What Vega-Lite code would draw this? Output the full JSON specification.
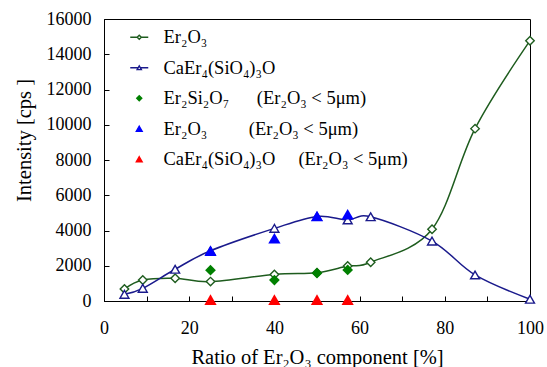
{
  "$schema": "https://vega.github.io/schema/vega-lite/v6.json",
  "width": 426,
  "height": 282,
  "autosize": {"type": "none"},
  "padding": {"left": 104, "top": 19, "right": 17, "bottom": 66},
  "background": "white",
  "config": {
    "view": {"stroke": "black", "strokeWidth": 1},
    "font": "Liberation Serif, Times New Roman, serif",
    "axis": {
      "grid": false,
      "domainColor": "black",
      "domainWidth": 1,
      "tickColor": "black",
      "tickWidth": 1,
      "tickSize": -5,
      "labelColor": "black",
      "titleColor": "black",
      "labelFont": "Liberation Serif, Times New Roman, serif",
      "titleFont": "Liberation Serif, Times New Roman, serif",
      "labelFontSize": 18,
      "titleFontSize": 20.5,
      "titleFontWeight": "normal"
    },
    "legend": {
      "labelFont": "Liberation Serif, Times New Roman, serif",
      "labelFontSize": 18.5,
      "labelColor": "black",
      "labelLimit": 500
    }
  },
  "datasets": {
    "pts": [
      {"ratio": 4.8, "intensity": 680, "series": "Er₂O₃"},
      {"ratio": 9.1, "intensity": 1190, "series": "Er₂O₃"},
      {"ratio": 16.7, "intensity": 1290, "series": "Er₂O₃"},
      {"ratio": 25, "intensity": 1100, "series": "Er₂O₃"},
      {"ratio": 40, "intensity": 1510, "series": "Er₂O₃"},
      {"ratio": 50, "intensity": 1600, "series": "Er₂O₃"},
      {"ratio": 57.2, "intensity": 1980, "series": "Er₂O₃"},
      {"ratio": 62.6, "intensity": 2200, "series": "Er₂O₃"},
      {"ratio": 77, "intensity": 4070, "series": "Er₂O₃"},
      {"ratio": 87.1, "intensity": 9780, "series": "Er₂O₃"},
      {"ratio": 100, "intensity": 14770, "series": "Er₂O₃"},
      {"ratio": 4.8, "intensity": 380, "series": "CaEr₄(SiO₄)₃O"},
      {"ratio": 9.1, "intensity": 720, "series": "CaEr₄(SiO₄)₃O"},
      {"ratio": 16.7, "intensity": 1800, "series": "CaEr₄(SiO₄)₃O"},
      {"ratio": 25, "intensity": 2850, "series": "CaEr₄(SiO₄)₃O"},
      {"ratio": 40, "intensity": 4120, "series": "CaEr₄(SiO₄)₃O"},
      {"ratio": 50, "intensity": 4800, "series": "CaEr₄(SiO₄)₃O"},
      {"ratio": 57.2, "intensity": 4600, "series": "CaEr₄(SiO₄)₃O"},
      {"ratio": 62.6, "intensity": 4780, "series": "CaEr₄(SiO₄)₃O"},
      {"ratio": 77, "intensity": 3400, "series": "CaEr₄(SiO₄)₃O"},
      {"ratio": 87.1, "intensity": 1480, "series": "CaEr₄(SiO₄)₃O"},
      {"ratio": 100, "intensity": 100, "series": "CaEr₄(SiO₄)₃O"},
      {"ratio": 25, "intensity": 1750, "series": "Er₂Si₂O₇\u00a0\u00a0\u00a0\u00a0\u00a0\u00a0(Er₂O₃ < 5μm)"},
      {"ratio": 40, "intensity": 1190, "series": "Er₂Si₂O₇\u00a0\u00a0\u00a0\u00a0\u00a0\u00a0(Er₂O₃ < 5μm)"},
      {"ratio": 50, "intensity": 1580, "series": "Er₂Si₂O₇\u00a0\u00a0\u00a0\u00a0\u00a0\u00a0(Er₂O₃ < 5μm)"},
      {"ratio": 57.2, "intensity": 1760, "series": "Er₂Si₂O₇\u00a0\u00a0\u00a0\u00a0\u00a0\u00a0(Er₂O₃ < 5μm)"},
      {"ratio": 25, "intensity": 2850, "series": "Er₂O₃\u00a0\u00a0\u00a0\u00a0\u00a0\u00a0\u00a0\u00a0\u00a0(Er₂O₃ < 5μm)"},
      {"ratio": 40, "intensity": 3560, "series": "Er₂O₃\u00a0\u00a0\u00a0\u00a0\u00a0\u00a0\u00a0\u00a0\u00a0(Er₂O₃ < 5μm)"},
      {"ratio": 50, "intensity": 4820, "series": "Er₂O₃\u00a0\u00a0\u00a0\u00a0\u00a0\u00a0\u00a0\u00a0\u00a0(Er₂O₃ < 5μm)"},
      {"ratio": 57.2, "intensity": 4920, "series": "Er₂O₃\u00a0\u00a0\u00a0\u00a0\u00a0\u00a0\u00a0\u00a0\u00a0(Er₂O₃ < 5μm)"},
      {"ratio": 25, "intensity": 80, "series": "CaEr₄(SiO₄)₃O\u00a0\u00a0\u00a0\u00a0\u00a0(Er₂O₃ < 5μm)"},
      {"ratio": 40, "intensity": 80, "series": "CaEr₄(SiO₄)₃O\u00a0\u00a0\u00a0\u00a0\u00a0(Er₂O₃ < 5μm)"},
      {"ratio": 50, "intensity": 80, "series": "CaEr₄(SiO₄)₃O\u00a0\u00a0\u00a0\u00a0\u00a0(Er₂O₃ < 5μm)"},
      {"ratio": 57.2, "intensity": 80, "series": "CaEr₄(SiO₄)₃O\u00a0\u00a0\u00a0\u00a0\u00a0(Er₂O₃ < 5μm)"}
    ]
  },
  "data": {"name": "pts"},
  "encoding": {
    "x": {
      "field": "ratio",
      "type": "quantitative",
      "scale": {"domain": [0, 100], "nice": false, "zero": false},
      "axis": {
        "values": [0, 10, 20, 30, 40, 50, 60, 70, 80, 90, 100],
        "labelExpr": "datum.value % 20 == 0 ? datum.label : ''",
        "labelFlush": false,
        "labelOverlap": false,
        "labelPadding": 23,
        "title": "Ratio of Er₂O₃ component [%]",
        "titleY": 62,
        "titleBaseline": "alphabetic"
      }
    },
    "y": {
      "field": "intensity",
      "type": "quantitative",
      "scale": {"domain": [0, 16000], "nice": false},
      "axis": {
        "values": [0, 2000, 4000, 6000, 8000, 10000, 12000, 14000, 16000],
        "format": "d",
        "labelPadding": 18,
        "title": "Intensity [cps ]",
        "titleX": -80,
        "titleY": 121,
        "titleAngle": -90,
        "titleAlign": "center",
        "titleBaseline": "middle"
      }
    }
  },
  "layer": [
    {
      "transform": [{"filter": {"field": "series", "equal": "Er₂O₃"}}],
      "mark": {"type": "line", "interpolate": "cardinal", "color": "#1e5c1e", "strokeWidth": 1.5}
    },
    {
      "transform": [{"filter": {"field": "series", "equal": "CaEr₄(SiO₄)₃O"}}],
      "mark": {"type": "line", "interpolate": "cardinal", "color": "#1a1a8c", "strokeWidth": 1.5}
    },
    {
      "transform": [{"filter": {"field": "series", "equal": "Er₂O₃"}}],
      "mark": {"type": "point", "shape": "diamond", "filled": true, "fill": "white", "stroke": "#1e5c1e", "strokeWidth": 1.4, "size": 72, "opacity": 1}
    },
    {
      "transform": [{"filter": {"field": "series", "equal": "CaEr₄(SiO₄)₃O"}}],
      "mark": {"type": "point", "shape": "triangle-up", "filled": true, "fill": "white", "stroke": "#1a1a8c", "strokeWidth": 1.4, "size": 80, "opacity": 1}
    },
    {
      "transform": [{"filter": {"field": "series", "equal": "Er₂Si₂O₇\u00a0\u00a0\u00a0\u00a0\u00a0\u00a0(Er₂O₃ < 5μm)"}}],
      "mark": {"type": "point", "shape": "diamond", "filled": true, "color": "#008000", "size": 115, "opacity": 1}
    },
    {
      "transform": [{"filter": {"field": "series", "equal": "Er₂O₃\u00a0\u00a0\u00a0\u00a0\u00a0\u00a0\u00a0\u00a0\u00a0(Er₂O₃ < 5μm)"}}],
      "mark": {"type": "point", "shape": "triangle-up", "filled": true, "color": "#0000ff", "size": 150, "opacity": 1}
    },
    {
      "transform": [{"filter": {"field": "series", "equal": "CaEr₄(SiO₄)₃O\u00a0\u00a0\u00a0\u00a0\u00a0(Er₂O₃ < 5μm)"}}],
      "mark": {"type": "point", "shape": "triangle-up", "filled": true, "color": "#ff0000", "size": 150, "opacity": 1}
    },
    {
      "data": {"values": []},
      "mark": {"type": "point", "filled": true, "size": 400, "opacity": 1, "strokeWidth": 1.4},
      "encoding": {
        "shape": {
          "field": "series",
          "type": "nominal",
          "scale": {
            "domain": ["Er₂O₃", "CaEr₄(SiO₄)₃O", "Er₂Si₂O₇\u00a0\u00a0\u00a0\u00a0\u00a0\u00a0(Er₂O₃ < 5μm)", "Er₂O₃\u00a0\u00a0\u00a0\u00a0\u00a0\u00a0\u00a0\u00a0\u00a0(Er₂O₃ < 5μm)", "CaEr₄(SiO₄)₃O\u00a0\u00a0\u00a0\u00a0\u00a0(Er₂O₃ < 5μm)"],
            "range": [
              "M-1.8,0L-0.42,0M0.42,0L1.8,0M0,-0.42L0.42,0L0,0.42L-0.42,0Z",
              "M-1.8,0L-0.21,0M0.21,0L1.8,0M0,-0.37L0.42,0.37L-0.42,0.37Z",
              "M0,-0.5L0.5,0L0,0.5L-0.5,0Z",
              "M0,-0.5L0.58,0.5L-0.58,0.5Z",
              "M0,-0.5L0.58,0.5L-0.58,0.5Z"
            ]
          },
          "legend": {"title": null, "orient": "none", "legendX": 26, "legendY": 9, "padding": 0, "labelOffset": 15, "rowPadding": 11.5, "symbolStrokeWidth": 1.4}
        },
        "fill": {
          "field": "series",
          "type": "nominal",
          "scale": {
            "domain": ["Er₂O₃", "CaEr₄(SiO₄)₃O", "Er₂Si₂O₇\u00a0\u00a0\u00a0\u00a0\u00a0\u00a0(Er₂O₃ < 5μm)", "Er₂O₃\u00a0\u00a0\u00a0\u00a0\u00a0\u00a0\u00a0\u00a0\u00a0(Er₂O₃ < 5μm)", "CaEr₄(SiO₄)₃O\u00a0\u00a0\u00a0\u00a0\u00a0(Er₂O₃ < 5μm)"],
            "range": ["white", "white", "#008000", "#0000ff", "#ff0000"]
          },
          "legend": {"title": null, "orient": "none", "legendX": 26, "legendY": 9, "padding": 0, "labelOffset": 15, "rowPadding": 11.5, "symbolStrokeWidth": 1.4}
        },
        "stroke": {
          "field": "series",
          "type": "nominal",
          "scale": {
            "domain": ["Er₂O₃", "CaEr₄(SiO₄)₃O", "Er₂Si₂O₇\u00a0\u00a0\u00a0\u00a0\u00a0\u00a0(Er₂O₃ < 5μm)", "Er₂O₃\u00a0\u00a0\u00a0\u00a0\u00a0\u00a0\u00a0\u00a0\u00a0(Er₂O₃ < 5μm)", "CaEr₄(SiO₄)₃O\u00a0\u00a0\u00a0\u00a0\u00a0(Er₂O₃ < 5μm)"],
            "range": ["#1e5c1e", "#1a1a8c", "#008000", "#0000ff", "#ff0000"]
          },
          "legend": {"title": null, "orient": "none", "legendX": 26, "legendY": 9, "padding": 0, "labelOffset": 15, "rowPadding": 11.5, "symbolStrokeWidth": 1.4}
        }
      }
    }
  ]
}
